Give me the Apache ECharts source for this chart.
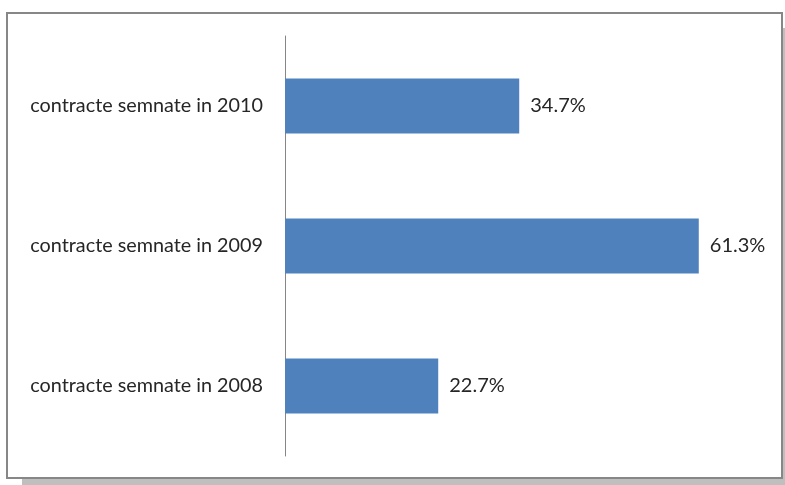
<!DOCTYPE html>
<html>
<head>
<meta charset="utf-8">
<script src="https://cdn.jsdelivr.net/npm/echarts@6/dist/echarts.min.js"></script>
<style>
  html, body { margin: 0; padding: 0; background: #ffffff; }
  #chart { width: 785px; height: 485px; }
</style>
</head>
<body>
<div id="chart"></div>
<script>
// Categories listed bottom-to-top (category axis on y starts at the bottom)
const categories = ['contracte semnate in 2008', 'contracte semnate in 2009', 'contracte semnate in 2010'];
const shares = [22.7, 61.3, 34.7];

const chart = echarts.init(document.getElementById('chart'), null, { renderer: 'canvas' });
const font = 'Lato, "Open Sans", "Liberation Sans", sans-serif';

chart.setOption({
  animation: false,
  backgroundColor: '#ffffff',
  graphic: [
    // drop shadow behind the frame
    { type: 'rect', z: -2, shape: { x: 22, y: 28, width: 763, height: 457 }, style: { fill: '#bfbfbf' } },
    // chart frame
    { type: 'rect', z: -1, shape: { x: 7, y: 13, width: 775, height: 465 }, style: { fill: '#ffffff', stroke: '#878787', lineWidth: 2 } }
  ],
  grid: { left: 285, top: 36, width: 472.5, height: 420, containLabel: false },
  xAxis: {
    type: 'value', min: 0, max: 70, show: false
  },
  yAxis: {
    type: 'category',
    data: categories,
    axisLine: { show: true, lineStyle: { color: '#868686', width: 1 } },
    axisTick: { show: false },
    axisLabel: { color: '#262626', fontSize: 19.8, fontFamily: font, margin: 22 }
  },
  series: [{
    type: 'bar',
    data: shares,
    barWidth: 55,
    itemStyle: { color: '#4f81bd' },
    label: {
      show: true, position: 'right', distance: 11,
      color: '#262626', fontSize: 20, fontFamily: font,
      formatter: p => p.value.toFixed(1) + '%'
    }
  }]
});
</script>
</body>
</html>
